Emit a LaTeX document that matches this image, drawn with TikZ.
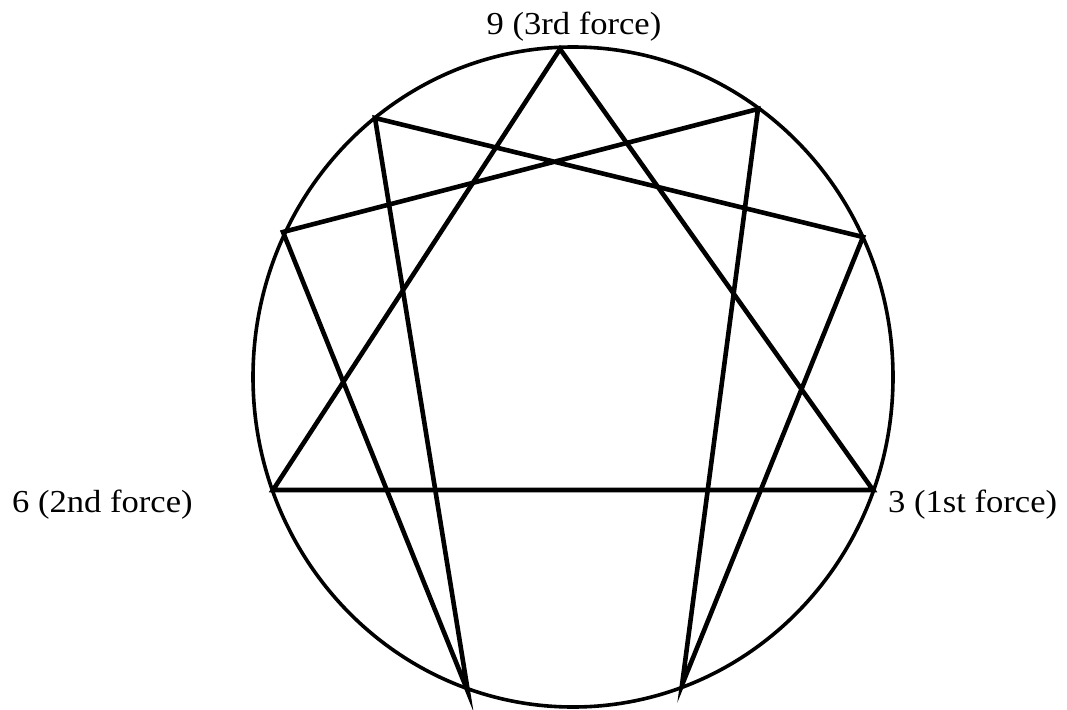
\documentclass[tikz,border=0pt]{standalone}
\usepackage{fontspec}
\setmainfont{Liberation Serif}
\begin{document}
\begin{tikzpicture}[x=1pt,y=1pt,
  rim/.style={line width=3.6pt},
  chord/.style={line width=4.6pt,line join=miter},
  lbl/.style={inner sep=0pt,font=\fontsize{32}{38}\selectfont}]
\useasboundingbox (0,0) rectangle (1067,-709);
\coordinate (c) at (573,-377);
\coordinate (p9) at (560,-49);
\coordinate (p1) at (758,-109);
\coordinate (p2) at (863,-237);
\coordinate (p3) at (873,-490);
\coordinate (p4) at (682,-685);
\coordinate (p5) at (468,-692);
\coordinate (p6) at (273,-490);
\coordinate (p7) at (283,-232);
\coordinate (p8) at (375,-118);
\draw[rim] (c) ellipse [x radius=320pt, y radius=330pt];
\draw[chord] (p9) -- (p3) -- (p6) -- cycle;
\draw[chord] (p1) -- (p4) -- (p2) -- (p8) -- (p5) -- (p7) -- cycle;
\node[lbl,anchor=base] (l9) at (574,-35) {\scalebox{1.08}[1]{9 (3rd force)}};
\node[lbl,anchor=base west] (l6) at (12,-512) {\scalebox{1.08}[1]{6 (2nd force)}};
\node[lbl,anchor=base west] (l3) at (888,-512) {\scalebox{1.08}[1]{3 (1st force)}};
\end{tikzpicture}
\end{document}
